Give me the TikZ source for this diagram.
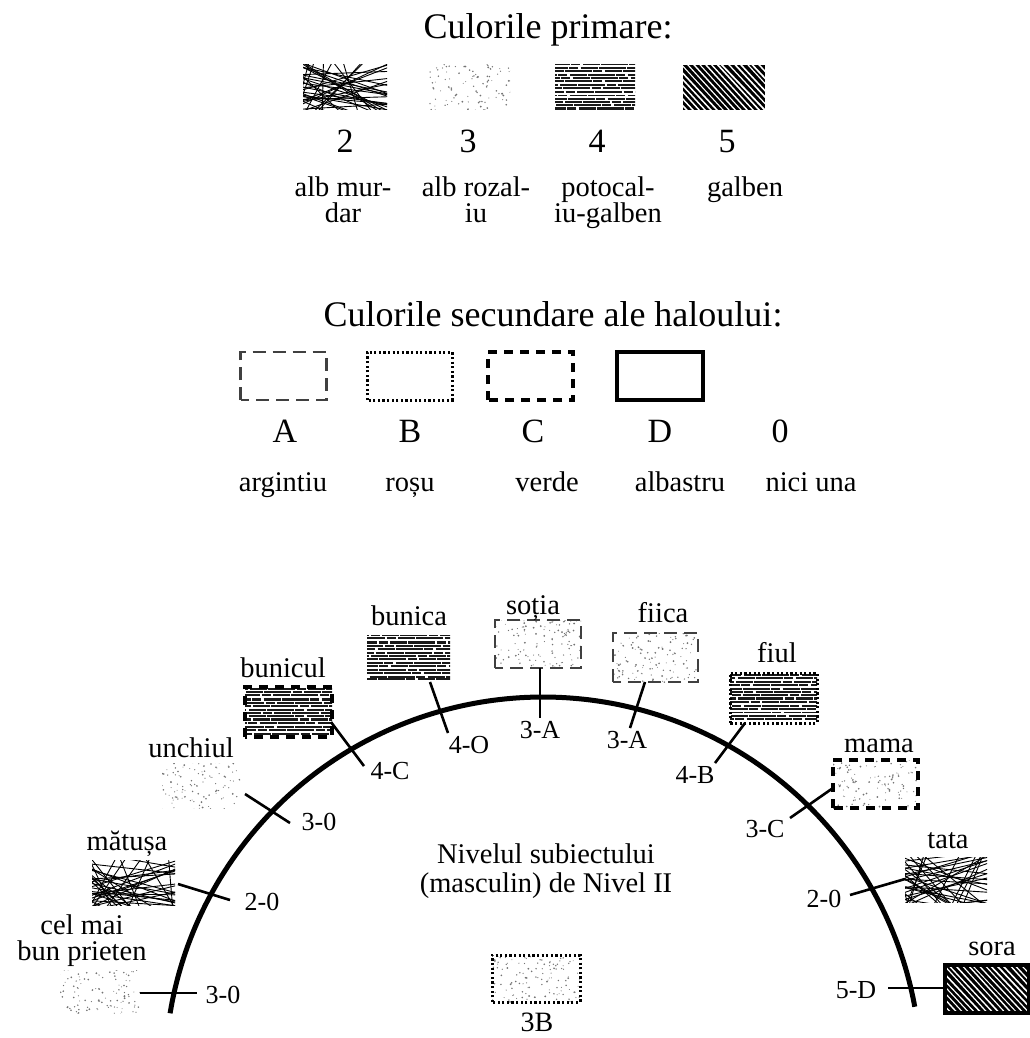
\documentclass[tikz,border=0pt]{standalone}
\usepackage{fontspec}
\setmainfont{Liberation Serif}
\newcommand\patTangle[2]{%
  \begin{scope}
    \clip (#1.south west) rectangle (#1.north east);
    \pgfmathsetseed{#2}
    \begin{scope}[shift={(#1.center)}]
      \foreach \i in {1,...,22}{
        \draw[line width=0.9pt] (-50,{rand*32}) -- (50,{rand*32});
      }
      \foreach \i in {1,...,10}{
        \draw[line width=0.9pt] ({rand*55},-30) -- ({rand*55},30);
      }
      \foreach \i in {1,...,8}{
        \draw[line width=0.9pt] (-50,{rand*20}) -- ({rand*50},30);
      }
    \end{scope}
  \end{scope}}
\newcommand\patDots[2]{%
  \begin{scope}
    \clip (#1.south west) rectangle (#1.north east);
    \pgfmathsetseed{#2}
    \begin{scope}[shift={(#1.center)}]
      \foreach \i in {1,...,140}{
        \fill[black!55] ({rand*46},{rand*27}) circle ({0.45+0.55*rnd});
      }
    \end{scope}
  \end{scope}}
\newcommand\patHoriz[2]{%
  \begin{scope}
    \clip (#1.south west) rectangle (#1.north east);
    \pgfmathsetseed{#2}
    \begin{scope}[shift={(#1.center)}]
      \foreach \yy in {-23,-19.6,...,24}{
        \pgfmathsetmacro\ph{rnd*40}
        \pgfmathsetmacro\dy{rand*0.6}
        \pgfmathsetmacro\lw{1.7+0.9*rnd}
        \draw[black!90, line width=\lw pt, dash pattern=on 27pt off 1.5pt on 9pt off 2.5pt on 17pt off 1pt, dash phase=\ph pt] (-50,{\yy+\dy}) -- (50,{\yy+\dy});
      }
    \end{scope}
  \end{scope}}
\newcommand\patDiag[2]{%
  \begin{scope}
    \clip (#1.south west) rectangle (#1.north east);
    \pgfmathsetseed{#2}
    \fill (#1.south west) rectangle (#1.north east);
    \begin{scope}[shift={(#1.center)}]
      \foreach \ofs in {-92,-86,...,52}{
        \pgfmathsetmacro\lw{1.0+0.7*rnd}
        \pgfmathsetmacro\dx{rand*1.5}
        \draw[white, line width=\lw pt] ({\ofs+\dx},-30) -- ({\ofs+56},30);
      }
    \end{scope}
  \end{scope}}
\begin{document}
\begin{tikzpicture}[x=1pt,y=-1pt,
  swz/.style 2 args={minimum width=#1pt, minimum height=#2pt, inner sep=0pt, outer sep=0pt},
  txtsm/.style={font=\fontsize{28.5}{26}\selectfont, inner sep=0pt, align=center},
  txtcd/.style={font=\fontsize{26}{26}\selectfont, inner sep=0pt},
  txtbig/.style={font=\fontsize{34}{34}\selectfont, inner sep=0pt},
  txtttl/.style={font=\fontsize{36}{36}\selectfont, inner sep=0pt},
  bordA/.style={draw=black!75, line width=2.2pt, dash pattern=on 13pt off 7pt},
  bordB/.style={draw=black, line width=3pt, dash pattern=on 2.2pt off 2.4pt},
  bordC/.style={draw=black, line width=3.2pt, dash pattern=on 9pt off 7pt},
  bordD/.style={draw=black, line width=4pt},
  arcline/.style={line width=5pt},
  stem/.style={line width=2.6pt}]
\fill[white] (0,0) rectangle (1029,1038);
\useasboundingbox (0,0) rectangle (1029,1038);

% ---------- primary colours ----------
\node[txtttl, anchor=base] (t1) at (548,39) {Culorile primare:};
\node[swz={84}{45}] (p2) at (345,87.5) {}; \patTangle{p2}{11}
\node[swz={82}{45}] (p3) at (469,87.5) {}; \patDots{p3}{12}
\node[swz={80}{45}] (p4) at (595,87.5) {}; \patHoriz{p4}{13}
\node[swz={82}{45}] (p5) at (724,87.5) {}; \patDiag{p5}{14}
\node[txtbig, anchor=base] (n2) at (345,153) {2};
\node[txtbig, anchor=base] (n3) at (468,153) {3};
\node[txtbig, anchor=base] (n4) at (597,153) {4};
\node[txtbig, anchor=base] (n5) at (727,153) {5};
\node[txtsm, anchor=north] (l2) at (343,177) {alb mur-\\dar};
\node[txtsm, anchor=north] (l3) at (476,177) {alb rozal-\\iu};
\node[txtsm, anchor=north] (l4) at (608,177) {potocal-\\iu-galben};
\node[txtsm, anchor=north] (l5) at (745,177) {galben};

% ---------- secondary colours ----------
\node[txtttl, anchor=base] (t2) at (553,326) {Culorile secundare ale haloului:};
\node[swz={86}{48}] (bA) at (283.5,376) {};
\node[swz={85}{48}] (bB) at (409.5,376) {};
\node[swz={85}{48}] (bC) at (530.5,376) {};
\node[swz={86}{48}] (bD) at (660,376) {};
\draw[bordA] (bA.south west) rectangle (bA.north east);
\draw[bordB] (bB.south west) rectangle (bB.north east);
\draw[bordC] (bC.south west) rectangle (bC.north east);
\draw[bordD] (bD.south west) rectangle (bD.north east);
\node[txtbig, anchor=base] (kA) at (285,442) {A};
\node[txtbig, anchor=base] (kB) at (410,442) {B};
\node[txtbig, anchor=base] (kC) at (533,442) {C};
\node[txtbig, anchor=base] (kD) at (660,442) {D};
\node[txtbig, anchor=base] (k0) at (780,442) {0};
\node[txtsm, anchor=base] (mA) at (283,491) {argintiu};
\node[txtsm, anchor=base] (mB) at (410,491) {roșu};
\node[txtsm, anchor=base] (mC) at (547,491) {verde};
\node[txtsm, anchor=base] (mD) at (680,491) {albastru};
\node[txtsm, anchor=base] (m0) at (811,491) {nici una};

% ---------- the arc ----------
\draw[arcline] plot[domain=-170.6:-10.4, samples=120, smooth] ({543+378*cos(\x)},{1075+378*sin(\x)});

% swatches on the arc
\node[swz={80}{43}] (sCel) at (100,991.5) {}; \patDots{sCel}{21}
\node[swz={83}{45}] (sMat) at (133.5,882.5) {}; \patTangle{sMat}{22}
\node[swz={78}{45}] (sUnc) at (201,785.5) {}; \patDots{sUnc}{23}
\node[swz={87}{50}] (sBcl) at (288.5,712) {}; \patHoriz{sBcl}{24}
\draw[bordC] (sBcl.south west) rectangle (sBcl.north east);
\node[swz={83}{47}] (sBca) at (408.5,658.5) {}; \patHoriz{sBca}{25}
\node[swz={86}{48}] (sSot) at (538,644) {}; \patDots{sSot}{26}
\draw[bordA] (sSot.south west) rectangle (sSot.north east);
\node[swz={85}{49}] (sFca) at (655.5,657.5) {}; \patDots{sFca}{27}
\draw[bordA] (sFca.south west) rectangle (sFca.north east);
\node[swz={87}{50}] (sFul) at (773.5,698) {}; \patHoriz{sFul}{28}
\draw[bordB] (sFul.south west) rectangle (sFul.north east);
\node[swz={85}{48}] (sMam) at (875.5,784) {}; \patDots{sMam}{29}
\draw[bordC] (sMam.south west) rectangle (sMam.north east);
\node[swz={82}{45}] (sTat) at (946,879.5) {}; \patTangle{sTat}{30}
\node[swz={84}{48}] (sSor) at (987,989) {}; \patDiag{sSor}{31}
\draw[bordD] (sSor.south west) rectangle (sSor.north east);
\node[swz={88}{47}] (sCtr) at (536,978.5) {}; \patDots{sCtr}{32}
\draw[bordB] (sCtr.south west) rectangle (sCtr.north east);

% names
\node[txtsm, anchor=north] (nCel) at (82,915) {cel mai\\bun prieten};
\node[txtsm, anchor=base] (nMat) at (127,850) {mătușa};
\node[txtsm, anchor=base] (nUnc) at (191,757) {unchiul};
\node[txtsm, anchor=base] (nBcl) at (283,677) {bunicul};
\node[txtsm, anchor=base] (nBca) at (409,625) {bunica};
\node[txtsm, anchor=base] (nSot) at (533,614) {soția};
\node[txtsm, anchor=base] (nFca) at (663,622) {fiica};
\node[txtsm, anchor=base] (nFul) at (777,662) {fiul};
\node[txtsm, anchor=base] (nMam) at (879,752) {mama};
\node[txtsm, anchor=base] (nTat) at (948,848) {tata};
\node[txtsm, anchor=base] (nSor) at (992,955) {sora};
\node[font=\fontsize{28.5}{29}\selectfont, inner sep=0pt, align=center, anchor=north] (ctr) at (546,844) {Nivelul subiectului\\(masculin) de Nivel II};
\node[font=\fontsize{28}{28}\selectfont, inner sep=0pt, anchor=base] (n3B) at (537,1031) {3B};

% stems and codes
\coordinate (e1) at (197,993);   \draw[stem] (sCel.east |- e1) -- (e1);
\coordinate (a2) at (178,884);   \coordinate (e2) at (230,900);  \draw[stem] (a2) -- (e2);
\coordinate (a3) at (245,794);   \coordinate (e3) at (290,823);  \draw[stem] (a3) -- (e3);
\coordinate (a4) at (331,722);   \coordinate (e4) at (364,766);  \draw[stem] (a4) -- (e4);
\coordinate (e5) at (448,733);   \draw[stem] (sBca.south -| 430,0) -- (e5);
\coordinate (e6) at (540,718);   \draw[stem] (sSot.south -| e6) -- (e6);
\coordinate (e7) at (630,728);   \draw[stem] (sFca.south -| 645,0) -- (e7);
\coordinate (e8) at (715,763);   \draw[stem] (sFul.south -| 745,0) -- (e8);
\coordinate (a9) at (833,788);   \coordinate (e9) at (790,818);  \draw[stem] (a9) -- (e9);
\coordinate (a10) at (905,879);  \coordinate (e10) at (850,895); \draw[stem] (a10) -- (e10);
\coordinate (e11) at (888,988);  \draw[stem] (sSor.west |- e11) -- (e11);

\node[txtcd, anchor=base] (c1) at (223,1003) {3-0};
\node[txtcd, anchor=base] (c2) at (262,910) {2-0};
\node[txtcd, anchor=base] (c3) at (319,830) {3-0};
\node[txtcd, anchor=base] (c4) at (390,779) {4-C};
\node[txtcd, anchor=base] (c5) at (469,753) {4-O};
\node[txtcd, anchor=base] (c6) at (540,738) {3-A};
\node[txtcd, anchor=base] (c7) at (627,748) {3-A};
\node[txtcd, anchor=base] (c8) at (695,783) {4-B};
\node[txtcd, anchor=base] (c9) at (765,837) {3-C};
\node[txtcd, anchor=base] (c10) at (824,907) {2-0};
\node[txtcd, anchor=base] (c11) at (856,998) {5-D};
\end{tikzpicture}
\end{document}
